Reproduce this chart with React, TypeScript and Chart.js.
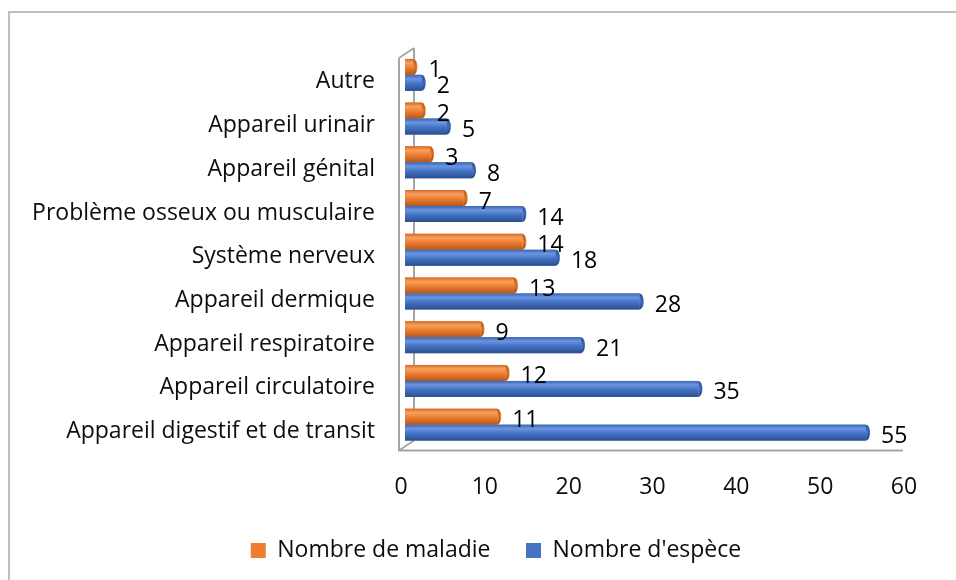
import { useEffect, useRef } from 'react';
import { Chart, registerables } from 'chart.js';

Chart.register(...registerables);

const categories = [
  'Autre',
  'Appareil urinair',
  'Appareil génital',
  'Problème osseux ou musculaire',
  'Système nerveux',
  'Appareil dermique',
  'Appareil respiratoire',
  'Appareil circulatoire',
  'Appareil digestif et de transit',
];
const nombreMaladie = [1, 2, 3, 7, 14, 13, 9, 12, 11];
const nombreEspece = [2, 5, 8, 14, 18, 28, 21, 35, 55];
const seriesNames = ['Nombre de maladie', "Nombre d'espèce"];
const xMin = 0;
const xMax = 60;
const xStep = 10;

const FONT = "'Open Sans', sans-serif";
const FONT_SIZE = 23;
const TEXT = '#0d0d0d';

const palettes = [
  { main: '#ed7d31', edge: '#d66a22', light: '#f6a15f', dark: '#b4571a', cap: '#c4621f' },
  { main: '#4472c4', edge: '#3b66b4', light: '#6b95df', dark: '#2b4f8f', cap: '#30589e' },
];

const frame3d = {
  id: 'frame3d',
  beforeDatasetsDraw(chart: any) {
    const { ctx, chartArea: a, scales } = chart;
    const x = scales.x;
    const x0 = x.getPixelForValue(xMin);
    const xe = x.getPixelForValue(xMax);
    const fx = x0 - 6;
    const bx = x0 + 9;
    const fyTop = a.top + 5;
    const fyBot = a.bottom + 4;
    const byTop = a.top - 5;
    const byBot = a.bottom - 6;
    ctx.save();
    ctx.strokeStyle = '#a6a6a6';
    ctx.lineWidth = 2;
    ctx.beginPath();
    ctx.moveTo(bx, byTop);
    ctx.lineTo(bx, byBot);
    ctx.moveTo(fx, fyTop);
    ctx.lineTo(bx, byTop);
    ctx.moveTo(fx, fyBot);
    ctx.lineTo(bx, byBot);
    ctx.moveTo(fx, fyTop);
    ctx.lineTo(fx, fyBot);
    ctx.lineTo(xe - 5, fyBot);
    ctx.stroke();
    ctx.restore();
  },
};

const cylinders = {
  id: 'cylinders',
  afterDatasetsDraw(chart: any) {
    const { ctx } = chart;
    ctx.save();
    chart.data.datasets.forEach((ds: any, di: number) => {
      const meta = chart.getDatasetMeta(di);
      const p = palettes[di];
      meta.data.forEach((el: any) => {
        const { x, y, base, height } = el.getProps(['x', 'y', 'base', 'height'], true);
        const top = y - height / 2;
        const bot = y + height / 2;
        const g = ctx.createLinearGradient(0, top, 0, bot);
        g.addColorStop(0, p.edge);
        g.addColorStop(0.25, p.light);
        g.addColorStop(0.55, p.main);
        g.addColorStop(1, p.dark);
        ctx.fillStyle = g;
        ctx.fillRect(base, top, x - base, height);
        const rx = 4;
        const gc = ctx.createLinearGradient(0, top, 0, bot);
        gc.addColorStop(0, p.cap);
        gc.addColorStop(0.5, p.main);
        gc.addColorStop(1, p.dark);
        ctx.beginPath();
        ctx.ellipse(x, y, rx, height / 2, 0, -Math.PI / 2, Math.PI / 2);
        ctx.closePath();
        ctx.fillStyle = gc;
        ctx.fill();
        ctx.beginPath();
        ctx.ellipse(x, y, rx - 1.5, height / 2 - 1.5, 0, -Math.PI / 2, Math.PI / 2);
        ctx.strokeStyle = 'rgba(0,0,0,0.15)';
        ctx.lineWidth = 1;
        ctx.stroke();
      });
    });
    ctx.restore();
  },
};

const valueLabels = {
  id: 'valueLabels',
  afterDatasetsDraw(chart: any) {
    const { ctx } = chart;
    ctx.save();
    ctx.font = `${FONT_SIZE}px ${FONT}`;
    ctx.fillStyle = '#000000';
    ctx.textAlign = 'left';
    ctx.textBaseline = 'middle';
    chart.data.datasets.forEach((ds: any, di: number) => {
      const meta = chart.getDatasetMeta(di);
      meta.data.forEach((el: any, i: number) => {
        const { x, y } = el.getProps(['x', 'y'], true);
        ctx.fillText(String(ds.data[i]), x + 15, y + 4);
      });
    });
    ctx.restore();
  },
};

const legendShift = {
  id: 'legendShift',
  afterLayout(chart: any) {
    const lg = chart.legend;
    if (lg) {
      lg.left += 42;
      lg.right += 42;
    }
  },
};

export default function App() {
  const canvasRef = useRef<HTMLCanvasElement | null>(null);

  useEffect(() => {
    const canvas = canvasRef.current;
    if (!canvas) return;
    const chart = new Chart(canvas, {
      type: 'bar',
      data: {
        labels: categories,
        datasets: [
          {
            label: seriesNames[0],
            data: nombreMaladie,
            backgroundColor: palettes[0].main,
            borderWidth: 0,
            categoryPercentage: 0.73,
            barPercentage: 1.0,
          },
          {
            label: seriesNames[1],
            data: nombreEspece,
            backgroundColor: palettes[1].main,
            borderWidth: 0,
            categoryPercentage: 0.73,
            barPercentage: 1.0,
          },
        ],
      },
      options: {
        indexAxis: 'y',
        responsive: false,
        animation: false,
        devicePixelRatio: 1,
        layout: { padding: { top: 53, right: 48, bottom: 8, left: 0 } },
        scales: {
          x: {
            min: xMin,
            max: xMax,
            grid: { display: false, drawTicks: false },
            border: { display: false },
            ticks: {
              stepSize: xStep,
              padding: 27,
              labelOffset: -4,
              color: TEXT,
              font: { family: FONT, size: FONT_SIZE },
            },
            afterFit: (s: any) => {
              s.height = 57;
            },
          },
          y: {
            grid: { display: false, drawTicks: false },
            border: { display: false },
            ticks: {
              padding: 30,
              labelOffset: 7,
              color: TEXT,
              font: { family: FONT, size: FONT_SIZE },
            },
            afterFit: (s: any) => {
              s.width = 405;
            },
          },
        },
        plugins: {
          legend: {
            position: 'bottom',
            labels: {
              boxWidth: 15,
              boxHeight: 15,
              padding: 35.5,
              color: TEXT,
              font: { family: FONT, size: FONT_SIZE },
            },
          },
          tooltip: { enabled: false },
        },
      },
      plugins: [frame3d, cylinders, valueLabels, legendShift],
    });
    return () => chart.destroy();
  }, []);

  return (
    <div>
      <div
        style={{
          position: 'absolute',
          left: 8,
          top: 11,
          width: 948,
          height: 569,
          borderLeft: '2px solid #bfbfbf',
          borderTop: '2px solid #bfbfbf',
          boxSizing: 'border-box',
        }}
      />
      <canvas
        ref={canvasRef}
        width={956}
        height={580}
        style={{ position: 'absolute', left: 0, top: 0, width: 956, height: 580, display: 'block' }}
      />
    </div>
  );
}
